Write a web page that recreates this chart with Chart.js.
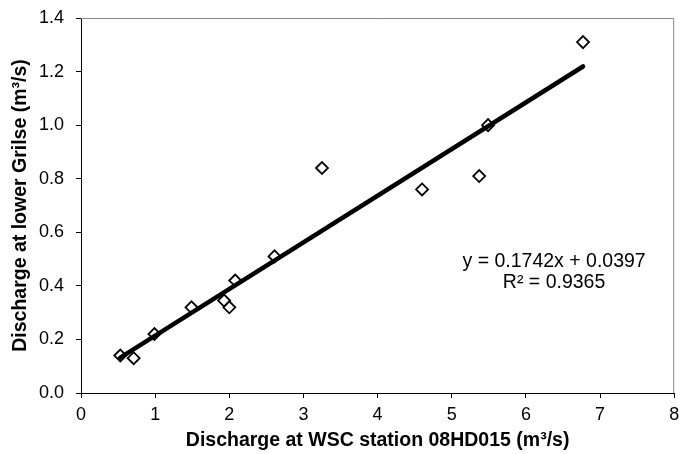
<!DOCTYPE html>
<html>
<head>
<meta charset="utf-8">
<script src="https://cdn.jsdelivr.net/npm/chart.js@4.4.1/dist/chart.umd.min.js"></script>
<style>
  html, body { margin: 0; padding: 0; background: #fff; }
  #wrap { width: 682px; height: 454px; }
</style>
</head>
<body>
<div id="wrap"><canvas id="chart1"></canvas></div>
<script>
// observed discharge pairs (m3/s)
var wscFlow = [0.53, 0.71, 0.99, 1.49, 1.93, 2.00, 2.08, 2.61, 3.25, 4.60, 5.37, 5.49, 6.77];
var grilseFlow = [0.14, 0.13, 0.22, 0.32, 0.345, 0.32, 0.42, 0.51, 0.84, 0.76, 0.81, 1.00, 1.31];

// linear trendline as printed on the chart
var slope = 0.1742;
var intercept = 0.0397;
var rSquared = '0.9365';

var points = wscFlow.map(function (x, i) { return { x: x, y: grilseFlow[i] }; });
var xMin = Math.min.apply(null, wscFlow);
var xMax = Math.max.apply(null, wscFlow);
var trend = [
  { x: xMin, y: slope * xMin + intercept },
  { x: xMax, y: slope * xMax + intercept }
];

var FONT = "'Liberation Sans', Arial, sans-serif";

// gray frame on top/right + the equation text
var extras = {
  id: 'extras',
  beforeDatasetsDraw: function (chart) {
    var a = chart.chartArea, c = chart.ctx;
    c.save();
    c.strokeStyle = '#888888';
    c.lineWidth = 1;
    c.beginPath();
    c.moveTo(a.left, a.top + 0.5);
    c.lineTo(a.right - 0.5, a.top + 0.5);
    c.lineTo(a.right - 0.5, a.bottom);
    c.stroke();
    c.restore();
  },
  afterDraw: function (chart) {
    var c = chart.ctx;
    var px = chart.scales.x.getPixelForValue(6.38);
    var py = chart.scales.y.getPixelForValue(0.49);
    c.save();
    c.fillStyle = '#000';
    c.font = '19.5px ' + FONT;
    c.textAlign = 'center';
    c.textBaseline = 'middle';
    c.fillText('y = ' + slope.toFixed(4) + 'x + ' + intercept.toFixed(4), px, py);
    c.fillText('R\u00b2 = ' + rSquared, px, py + 21);
    c.restore();
  }
};

var ctx = document.getElementById('chart1').getContext('2d');
var chart = new Chart(ctx, {
  type: 'scatter',
  data: {
    datasets: [{
      type: 'line',
      label: 'trend',
      data: trend,
      borderColor: '#000',
      borderWidth: 4.5,
      borderCapStyle: 'round',
      pointRadius: 0,
      fill: false,
      order: 0
    }, {
      label: 'Discharge',
      data: points,
      pointStyle: 'rectRot',
      pointRadius: 6,
      pointHoverRadius: 6,
      pointBorderWidth: 1.8,
      pointBorderColor: '#000',
      pointBackgroundColor: 'rgba(255,255,255,0)',
      order: 1
    }]
  },
  options: {
    responsive: true,
    maintainAspectRatio: false,
    animation: false,
    layout: { padding: { top: 18, right: 3, left: 0, bottom: 0 } },
    plugins: { legend: { display: false }, tooltip: { enabled: false } },
    scales: {
      x: {
        type: 'linear',
        min: 0, max: 8,
        ticks: { stepSize: 1, color: '#000', padding: 6, font: { family: FONT, size: 18 } },
        grid: { drawOnChartArea: false, tickLength: 5, color: '#000' },
        border: { color: '#000', width: 1 },
        title: {
          display: true,
          text: 'Discharge at WSC station 08HD015 (m\u00b3/s)',
          color: '#000',
          font: { family: FONT, size: 19.5, weight: 'bold' },
          padding: { top: 0, bottom: 2 }
        },
        afterFit: function (s) { s.height = 61; s.paddingLeft = 0; s.paddingRight = 0; }
      },
      y: {
        min: 0, max: 1.4,
        ticks: {
          stepSize: 0.2, color: '#000', padding: 12,
          font: { family: FONT, size: 18 },
          callback: function (v) { return v.toFixed(1); }
        },
        grid: { drawOnChartArea: false, tickLength: 5, color: '#000' },
        border: { color: '#000', width: 1 },
        title: {
          display: true,
          text: 'Discharge at lower Grilse (m\u00b3/s)',
          color: '#000',
          font: { family: FONT, size: 19.5, weight: 'bold' },
          padding: { top: 9, bottom: 0 }
        },
        afterFit: function (s) { s.width = 81; s.paddingTop = 0; s.paddingBottom = 0; }
      }
    }
  },
  plugins: [extras]
});
</script>
</body>
</html>
